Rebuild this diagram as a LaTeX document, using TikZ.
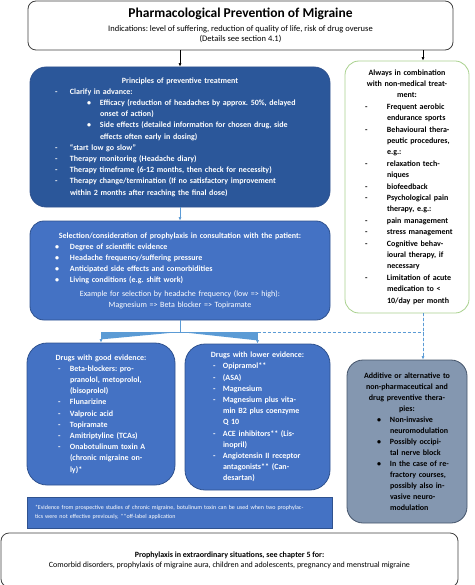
\documentclass[tikz,border=0pt]{standalone}
\usepackage{fontspec}
\setmainfont{Carlito}
\usetikzlibrary{arrows.meta}
\definecolor{navyblue}{HTML}{2B579A}
\definecolor{midblue}{HTML}{4472C4}
\definecolor{edgeblue}{HTML}{2F528F}
\definecolor{arrowblue}{HTML}{5B9BD5}
\definecolor{slatefill}{HTML}{8497B0}
\definecolor{slateedge}{HTML}{44546A}
\definecolor{leafgreen}{HTML}{A9D18E}
\definecolor{frame}{HTML}{404040}
\frenchspacing
% centred heading line / list line
\newcommand\hd[1]{\leavevmode\hbox to\hsize{\hss#1\hss}}
\newcommand\ent[4]{\mbox{\hspace*{#1}\makebox[#2][l]{#3}#4}}

\begin{document}
\begin{tikzpicture}[x=1pt,y=-1pt,
  box/.style={draw, line width=0.8pt, inner xsep=4pt, inner ysep=0pt, align=left},
  bluetext/.style={text=white, font=\fontsize{8}{11.2}\selectfont\bfseries},
  blacktext/.style={text=black, font=\fontsize{8}{11.4}\selectfont\bfseries},
  blackarrow/.style={-{Latex[length=3.5pt,width=3pt]}, line width=0.6pt},
  bluearrow/.style={blackarrow, draw=arrowblue, fill=arrowblue}]
  \useasboundingbox (0,0) rectangle (474,585);

  \node[box, draw=frame, rounded corners=8pt, align=center, inner ysep=0pt,
        minimum width=425pt, minimum height=49pt,
        font=\fontsize{8.5}{10}\selectfont] (intro) at (240.5,25.5)
    {{\fontsize{13.5}{15}\selectfont\bfseries Pharmacological Prevention of Migraine}\\[4pt]
     Indications: level of suffering, reduction of quality of life, risk of drug overuse\\
     (Details see section 4.1)};

  \node[box, bluetext, draw=edgeblue, fill=navyblue, rounded corners=16pt,
        minimum width=300pt, minimum height=140pt, text width=292pt] (principles) at (180,137)
    {\hd{Principles of preventive treatment}\\
     \ent{21pt}{15pt}{-}{Clarify in advance:}\\
     \ent{53pt}{13pt}{\textbullet}{Efficacy (reduction of headaches by approx. 50\%, delayed}\\
     \ent{66pt}{0pt}{}{onset of action)}\\
     \ent{53pt}{13pt}{\textbullet}{Side effects (detailed information for chosen drug, side}\\
     \ent{66pt}{0pt}{}{effects often early in dosing)}\\
     \ent{21pt}{15pt}{-}{``start low go slow''}\\
     \ent{21pt}{15pt}{-}{Therapy monitoring (Headache diary)}\\
     \ent{21pt}{15pt}{-}{Therapy timeframe (6-12 months, then check for necessity)}\\
     \ent{21pt}{15pt}{-}{Therapy change/termination (If no satisfactory improvement}\\
     \ent{36pt}{0pt}{}{within 2 months after reaching the final dose)}};

  \node[box, blacktext, draw=leafgreen, fill=white, rounded corners=14pt,
        minimum width=124pt, minimum height=252pt, text width=116pt] (combo) at (407,187)
    {\hd{Always in combination}\\
     \hd{with non-medical treat-}\\
     \hd{ment:}\\
     \ent{16pt}{22pt}{-}{Frequent aerobic}\\
     \ent{38pt}{0pt}{}{endurance sports}\\
     \ent{16pt}{22pt}{-}{Behavioural thera-}\\
     \ent{38pt}{0pt}{}{peutic procedures,}\\
     \ent{38pt}{0pt}{}{e.g.:}\\
     \ent{16pt}{22pt}{-}{relaxation tech-}\\
     \ent{38pt}{0pt}{}{niques}\\
     \ent{16pt}{22pt}{-}{biofeedback}\\
     \ent{16pt}{22pt}{-}{Psychological pain}\\
     \ent{38pt}{0pt}{}{therapy, e.g.:}\\
     \ent{16pt}{22pt}{-}{pain management}\\
     \ent{16pt}{22pt}{-}{stress management}\\
     \ent{16pt}{22pt}{-}{Cognitive behav-}\\
     \ent{38pt}{0pt}{}{ioural therapy, if}\\
     \ent{38pt}{0pt}{}{necessary}\\
     \ent{16pt}{22pt}{-}{Limitation of acute}\\
     \ent{38pt}{0pt}{}{medication to \textless}\\
     \ent{38pt}{0pt}{}{10/day per month}};

  \node[box, bluetext, draw=edgeblue, fill=midblue, rounded corners=14pt,
        minimum width=300pt, minimum height=99pt, text width=292pt] (selection) at (180,270.5)
    {\hd{Selection/consideration of prophylaxis in consultation with the patient:}\\
     \ent{21pt}{15pt}{\textbullet}{Degree of scientific evidence}\\
     \ent{21pt}{15pt}{\textbullet}{Headache frequency/suffering pressure}\\
     \ent{21pt}{15pt}{\textbullet}{Anticipated side effects and comorbidities}\\
     \ent{21pt}{15pt}{\textbullet}{Living conditions (e.g. shift work)}\\[2pt]
     \hd{\mdseries Example for selection by headache frequency (low => high):}\\
     \hd{\mdseries Magnesium => Beta blocker => Topiramate}};

  \node[box, bluetext, draw=edgeblue, fill=midblue, rounded corners=20pt,
        minimum width=148pt, minimum height=142pt, text width=140pt] (good) at (101,414)
    {\hd{Drugs with good evidence:}\\
     \ent{27pt}{12pt}{-}{Beta-blockers: pro-}\\
     \ent{39pt}{0pt}{}{pranolol, metoprolol,}\\
     \ent{39pt}{0pt}{}{(bisoprolol)}\\
     \ent{27pt}{12pt}{-}{Flunarizine}\\
     \ent{27pt}{12pt}{-}{Valproic acid}\\
     \ent{27pt}{12pt}{-}{Topiramate}\\
     \ent{27pt}{12pt}{-}{Amitriptyline (TCAs)}\\
     \ent{27pt}{12pt}{-}{Onabotulinum toxin A}\\
     \ent{39pt}{0pt}{}{(chronic migraine on-}\\
     \ent{39pt}{0pt}{}{ly)*}};

  \node[box, bluetext, draw=edgeblue, fill=midblue, rounded corners=20pt,
        minimum width=145pt, minimum height=146pt, text width=137pt] (lower) at (257.5,417)
    {\hd{Drugs with lower evidence:}\\
     \ent{24pt}{10pt}{-}{Opipramol**}\\
     \ent{24pt}{10pt}{-}{(ASA)}\\
     \ent{24pt}{10pt}{-}{Magnesium}\\
     \ent{24pt}{10pt}{-}{Magnesium plus vita-}\\
     \ent{34pt}{0pt}{}{min B2 plus coenzyme}\\
     \ent{34pt}{0pt}{}{Q 10}\\
     \ent{24pt}{10pt}{-}{ACE inhibitors** (Lis-}\\
     \ent{34pt}{0pt}{}{inopril)}\\
     \ent{24pt}{10pt}{-}{Angiotensin II receptor}\\
     \ent{34pt}{0pt}{}{antagonists** (Can-}\\
     \ent{34pt}{0pt}{}{desartan)}};

  \node[box, blacktext, draw=slateedge, fill=slatefill, rounded corners=16pt,
        font=\fontsize{8}{11}\selectfont\bfseries,
        minimum width=120pt, minimum height=163pt, text width=112pt] (additive) at (407,441.5)
    {\hd{Additive or alternative to}\\
     \hd{non-pharmaceutical and}\\
     \hd{drug preventive thera-}\\
     \hd{pies:}\\
     \ent{26pt}{13pt}{\textbullet}{Non-invasive}\\
     \ent{39pt}{0pt}{}{neuromodulation}\\
     \ent{26pt}{13pt}{\textbullet}{Possibly occipi-}\\
     \ent{39pt}{0pt}{}{tal nerve block}\\
     \ent{26pt}{13pt}{\textbullet}{In the case of re-}\\
     \ent{39pt}{0pt}{}{fractory courses,}\\
     \ent{39pt}{0pt}{}{possibly also in-}\\
     \ent{39pt}{0pt}{}{vasive neuro-}\\
     \ent{39pt}{0pt}{}{modulation}};

  \node[box, draw=edgeblue, fill=midblue, text=white, inner xsep=8pt,
        font=\fontsize{6}{9}\selectfont,
        minimum width=305pt, minimum height=31pt, text width=289pt] (footnote) at (179.5,512.5)
    {*Evidence from prospective studies of chronic migraine, botulinum toxin can be used when two prophylac-\\
     tics were not effective previously, **off-label application};

  \node[box, draw=frame, fill=white, rounded corners=8pt, align=center,
        font=\fontsize{8}{10}\selectfont,
        minimum width=457pt, minimum height=54pt] (special) at (229.5,560)
    {\textbf{Prophylaxis in extraordinary situations, see chapter 5 for:}\\
     Comorbid disorders, prophylaxis of migraine aura, children and adolescents, pregnancy and menstrual migraine};

  \coordinate (gx) at (423,0);
  \coordinate (split) at (180,332);
  \draw[blackarrow] (intro.south -| principles) -- (principles.north);
  \draw[blackarrow] (intro.south -| gx) -- (combo.north -| gx);
  \draw[bluearrow] (principles.south) -- (selection.north);
  \draw[arrowblue, line width=0.6pt] (selection.south) -- (split);
  \draw[bluearrow] (split) -| (good.north);
  \draw[bluearrow] (split) -| (lower.north);
  \draw[arrowblue, line width=0.6pt, dash pattern=on 3pt off 2pt] (split -| lower) -- (split -| gx);
  \draw[bluearrow, dash pattern=on 3pt off 2pt] (combo.south -| gx) -- (additive.north -| gx);
\end{tikzpicture}
\end{document}
